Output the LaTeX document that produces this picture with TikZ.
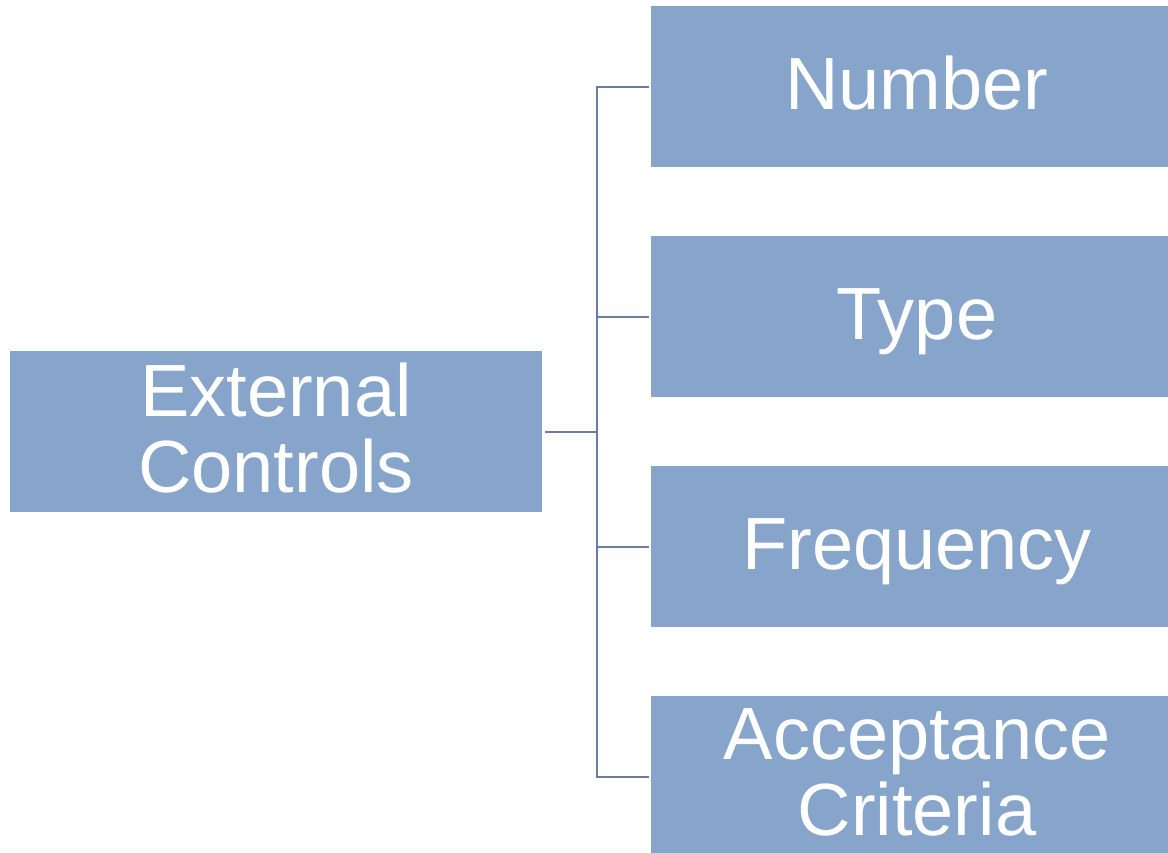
\documentclass[tikz,border=0pt]{standalone}
\usepackage{fontspec}
\setmainfont{Liberation Sans}
\definecolor{boxfill}{RGB}{135,165,203}
\definecolor{linecol}{RGB}{106,127,160}
\newcommand{\lowstrut}{\rule[-8pt]{0pt}{1pt}}
\begin{document}
\begin{tikzpicture}[x=1pt,y=-1pt,
  box/.style={fill=boxfill,draw=none,minimum width=532pt,minimum height=161pt,
    inner sep=0pt,align=center,text=white,font=\fontsize{74}{76}\selectfont},
  oneline/.style={box,text height=53pt,text depth=8pt},
  conn/.style={draw=linecol,line width=2pt}]
\useasboundingbox (0,0) rectangle (1168,853);
\clip (0,0) rectangle (1168,853);
\fill[white] (0,0) rectangle (1168,853);
\node[box] (L) at (276,431.5) {External\\Controls\lowstrut};
\node[oneline] (A) at (917,87) {Number};
\node[oneline] (B) at (917,316.5) {Type};
\node[oneline] (C) at (917,546.5) {Frequency};
\node[box] (D) at (917,776.5) {Acceptance\\Criteria\lowstrut};
\coordinate (T) at (597,431.5);
\draw[conn,shorten <=3pt] (L.east) -- (T);
\draw[conn,shorten >=2pt] (T) |- (A.west);
\draw[conn,shorten >=2pt] (T) |- (B.west);
\draw[conn,shorten >=2pt] (T) |- (C.west);
\draw[conn,shorten >=2pt] (T) |- (D.west);
\end{tikzpicture}
\end{document}
